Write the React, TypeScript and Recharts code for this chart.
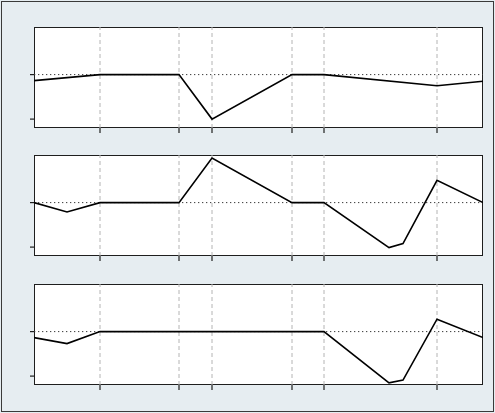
import { LineChart, Line, XAxis, YAxis, ReferenceLine } from 'recharts';

// x positions (arbitrary units along the time axis) shared by all panels
const xs = [0, 33, 66, 145, 178, 258, 290, 355, 369, 403, 449];
const xTicks = [66, 145, 178, 258, 290, 403];
const yTicks = [-1, 0];

const seriesTop = [-0.135, null, 0, 0, -1, 0, 0, null, null, -0.25, -0.15];
const seriesMid = [0, -0.21, 0, 0, 1, 0, 0, -1.01, -0.92, 0.5, 0];
const seriesBottom = [-0.135, -0.27, 0, 0, 0, 0, 0, -1.15, -1.09, 0.28, -0.135];

const panels = [seriesTop, seriesMid, seriesBottom];
const panelTops = [27, 155, 284];

const PLOT_LEFT = 34;
const PLOT_W = 449;
const PLOT_H = 101;
const AXIS_H = 6;

function Panel({ values, top }: { values: (number | null)[]; top: number }) {
  const data = xs.map((x, i) => ({ x, v: values[i] }));
  return (
    <>
      <div
        style={{
          position: 'absolute',
          left: PLOT_LEFT,
          top,
          width: PLOT_W,
          height: PLOT_H,
          boxSizing: 'border-box',
          border: '1px solid #1e1e1e',
          background: '#fff',
        }}
      />
      <div style={{ position: 'absolute', left: 0, top }}>
        <LineChart
          width={PLOT_LEFT + PLOT_W + 12}
          height={PLOT_H + AXIS_H}
          data={data}
          margin={{ top: 0, right: 12, bottom: 0, left: 0 }}
        >
          <XAxis
            dataKey="x"
            type="number"
            domain={[0, 449]}
            ticks={xTicks}
            axisLine={false}
            tickSize={5}
            tickLine={{ stroke: '#1e1e1e', strokeWidth: 1.2 }}
            tickFormatter={() => ''}
            height={AXIS_H}
            allowDataOverflow
          />
          <YAxis
            type="number"
            domain={[-1.2, 1.07]}
            ticks={yTicks}
            axisLine={false}
            tickSize={4}
            tickLine={{ stroke: '#1e1e1e', strokeWidth: 1.2 }}
            tickFormatter={() => ''}
            width={PLOT_LEFT}
            allowDataOverflow
          />
          {xTicks.map((t) => (
            <ReferenceLine key={t} x={t} stroke="#b4b4b4" strokeDasharray="4 3" />
          ))}
          <ReferenceLine y={0} stroke="#3a3a3a" strokeDasharray="1.3 2.7" />
          <Line
            dataKey="v"
            stroke="#000"
            strokeWidth={1.6}
            dot={false}
            connectNulls
            isAnimationActive={false}
          />
        </LineChart>
      </div>
    </>
  );
}

export default function App() {
  return (
    <div
      style={{
        position: 'absolute',
        left: 0,
        top: 0,
        width: 495,
        height: 413,
        background: '#e6edf1',
      }}
    >
      <div
        style={{
          position: 'absolute',
          left: 1,
          top: 1,
          width: 493,
          height: 411,
          boxSizing: 'border-box',
          border: '1px solid #3a3a3a',
        }}
      />
      {panels.map((p, i) => (
        <Panel key={i} values={p} top={panelTops[i]} />
      ))}
    </div>
  );
}
